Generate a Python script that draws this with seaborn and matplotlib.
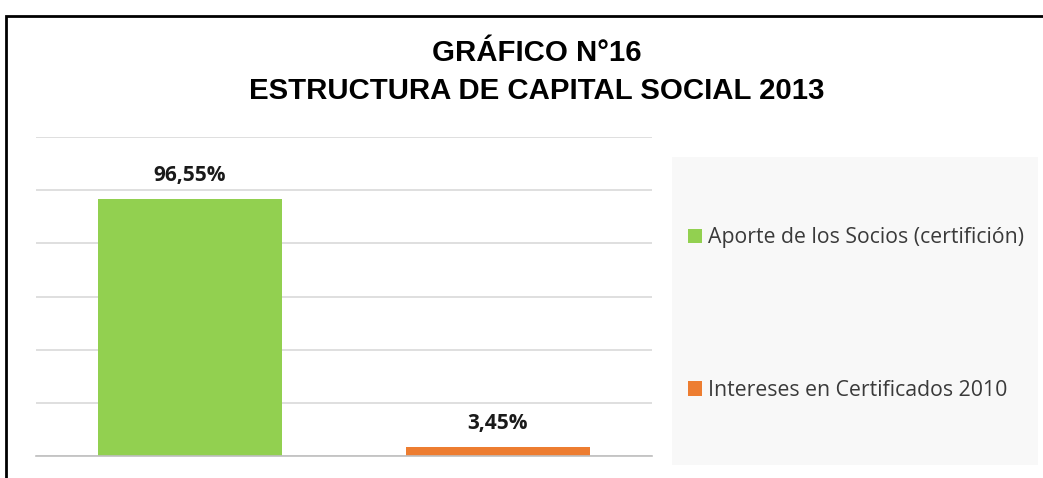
import matplotlib
matplotlib.use("Agg")
import matplotlib.pyplot as plt
import seaborn as sns
import pandas as pd
from matplotlib.patches import Rectangle, Patch

categories = ["Aporte de los Socios (certifición)", "Intereses en Certificados 2010"]
values = [96.55, 3.45]
labels = ["96,55%", "3,45%"]
colors = ["#92d050", "#ed7d31"]
title = "GRÁFICO N°16\nESTRUCTURA DE CAPITAL SOCIAL 2013"

sns.set_theme(style="white")
plt.rcParams['font.family'] = ['Open Sans', 'DejaVu Sans']

W, H = 1043, 478
fig = plt.figure(figsize=(W / 100, H / 100), dpi=100)
fig.patch.set_facecolor("white")

ax = fig.add_axes([36 / W, (H - 456) / H, (652 - 36) / W, (456 - 137) / H])
df = pd.DataFrame({"cat": categories, "val": values})
sns.barplot(data=df, x="cat", y="val", hue="cat", palette=colors, width=0.6,
            ax=ax, legend=False, saturation=1, edgecolor="none")

ax.set_ylim(0, 120)
ax.set_yticks(range(0, 121, 20))
ax.set_yticklabels([])
ax.set_xticks([])
ax.set_xlabel("")
ax.set_ylabel("")
ax.tick_params(length=0)
ax.yaxis.grid(True, color="#d9d9d9", linewidth=1.2)
ax.set_axisbelow(True)
for s in ["top", "right", "left"]:
    ax.spines[s].set_visible(False)
ax.spines["bottom"].set_color("#bfbfbf")
ax.spines["bottom"].set_linewidth(1.2)

for i, (v, lab) in enumerate(zip(values, labels)):
    ax.annotate(lab, (i, v), xytext=(0, 9.5), textcoords="offset points",
                ha="center", va="bottom", fontsize=15, fontweight="bold",
                color="#1a1a1a")

# title
fig.text(537 / W, 1 - 72 / H, title, ha="center", va="center",
         fontsize=21.2, fontweight="bold", family=["Liberation Sans", "DejaVu Sans"],
         linespacing=1.42, color="black")

# outer frame
fig.patches.append(Rectangle((6 / W, -0.1), 1.2, 1 - 16 / H + 0.1,
                             transform=fig.transFigure, fill=False,
                             edgecolor="black", linewidth=2, zorder=0))

# legend background
fig.patches.append(Rectangle((672 / W, 1 - 465 / H), (1038 - 672) / W, (465 - 157) / H,
                             transform=fig.transFigure, facecolor="#f8f8f8",
                             edgecolor="none", zorder=0))

handles = [Patch(facecolor=c, edgecolor="none") for c in colors]
leg = fig.legend(handles, categories, loc="center left",
                 bbox_to_anchor=(688 / W, 1 - 314 / H), frameon=False,
                 fontsize=15.3, labelspacing=6.2, handlelength=0.65,
                 handleheight=0.65, handletextpad=0.3, borderaxespad=0,
                 borderpad=0)
for t in leg.get_texts():
    t.set_color("#3a3a3a")

fig.savefig("out.png", dpi=100)
